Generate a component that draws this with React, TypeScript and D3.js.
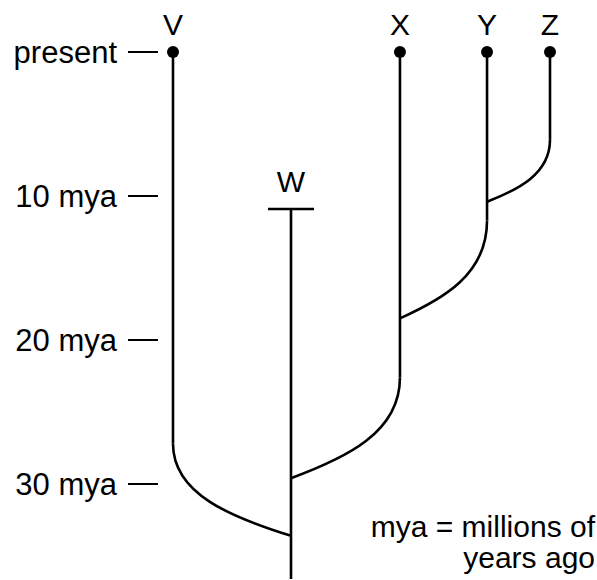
import React, { useEffect, useRef } from "react";
import * as d3 from "d3";

// tips of the tree, left to right
const taxa = ["V", "W", "X", "Y", "Z"];
const lanes = [0, 3.13, 6.02, 8.33, 10]; // relative horizontal place of each tip
const tipAge = [0, 10.9, 0, 0, 0]; // mya, W is extinct

// branching events (child joins parent)
const splitChild = ["Z", "Y", "X", "V"];
const splitParent = ["Y", "X", "W", "W"];
const splitAge = [10.4, 18.5, 29.6, 33.6];
const bendAge = [6.1, 11.7, 22.6, 27.2];
const rootAge = 36.6;

// time axis
const tickAges = [0, 10, 20, 30];
const tickLabels = ["present", "10 mya", "20 mya", "30 mya"];

const noteLines = ["mya = millions of", "years ago"];

const FONT = "'Liberation Sans', Arial, Helvetica, sans-serif";

export default function App() {
  const svgRef = useRef<SVGSVGElement | null>(null);

  useEffect(() => {
    const width = 597;
    const height = 580;
    const svg = d3.select(svgRef.current)
      .attr("width", width)
      .attr("height", height);

    svg.selectAll("*").remove();

    const x = d3.scaleLinear().domain([0, 10]).range([173, 550]);
    const y = d3.scaleLinear().domain([0, 30]).range([52, 484]);
    const laneOf = (t: string) => x(lanes[taxa.indexOf(t)]);

    const stroke = "#000";
    const sw = 2.6;

    // time ticks: label + short dash
    const ticks = svg.append("g");
    ticks.selectAll("line")
      .data(tickAges)
      .join("line")
      .attr("x1", 128)
      .attr("x2", 158)
      .attr("y1", (d) => y(d))
      .attr("y2", (d) => y(d))
      .attr("stroke", stroke)
      .attr("stroke-width", 2);
    ticks.selectAll("text")
      .data(tickAges)
      .join("text")
      .attr("x", 117)
      .attr("y", (d) => y(d) + 10.5)
      .attr("text-anchor", "end")
      .style("font-family", FONT)
      .style("font-size", "31px")
      .text((d, i) => tickLabels[i]);

    // vertical lineages
    taxa.forEach((t, i) => {
      const k = splitChild.indexOf(t);
      const bottom = k >= 0 ? bendAge[k] : rootAge;
      svg.append("line")
        .attr("x1", laneOf(t))
        .attr("x2", laneOf(t))
        .attr("y1", y(tipAge[i]))
        .attr("y2", y(bottom))
        .attr("stroke", stroke)
        .attr("stroke-width", sw);
    });

    // curved joins
    splitChild.forEach((c, i) => {
      const x1 = laneOf(c);
      const y1 = y(bendAge[i]);
      const x0 = laneOf(splitParent[i]);
      const y0 = y(splitAge[i]);
      const dx = x1 - x0;
      const dy = y0 - y1;
      const p = d3.path();
      p.moveTo(x1, y1);
      p.bezierCurveTo(x1, y1 + 0.55 * dy, x0 + 0.5 * dx, y0 - 0.2 * dy, x0, y0);
      svg.append("path")
        .attr("d", p.toString())
        .attr("fill", "none")
        .attr("stroke", stroke)
        .attr("stroke-width", sw);
    });

    // living tips get a dot, extinct tips a bar
    taxa.forEach((t, i) => {
      const cx = laneOf(t);
      const cy = y(tipAge[i]);
      if (tipAge[i] === 0) {
        svg.append("circle")
          .attr("cx", cx)
          .attr("cy", cy)
          .attr("r", 6)
          .attr("fill", stroke);
      } else {
        svg.append("line")
          .attr("x1", cx - 23)
          .attr("x2", cx + 23)
          .attr("y1", cy)
          .attr("y2", cy)
          .attr("stroke", stroke)
          .attr("stroke-width", sw);
      }
      svg.append("text")
        .attr("x", cx)
        .attr("y", cy - 17)
        .attr("text-anchor", "middle")
        .style("font-family", FONT)
        .style("font-size", "30px")
        .text(t);
    });

    // note
    svg.append("g")
      .selectAll("text")
      .data(noteLines)
      .join("text")
      .attr("x", 595)
      .attr("y", (d, i) => 537 + i * 31)
      .attr("text-anchor", "end")
      .style("font-family", FONT)
      .style("font-size", "30px")
      .text((d) => d);
  }, []);

  return (
    <svg
      ref={svgRef}
      style={{ position: "absolute", left: 0, top: 0, background: "#fff" }}
    />
  );
}
